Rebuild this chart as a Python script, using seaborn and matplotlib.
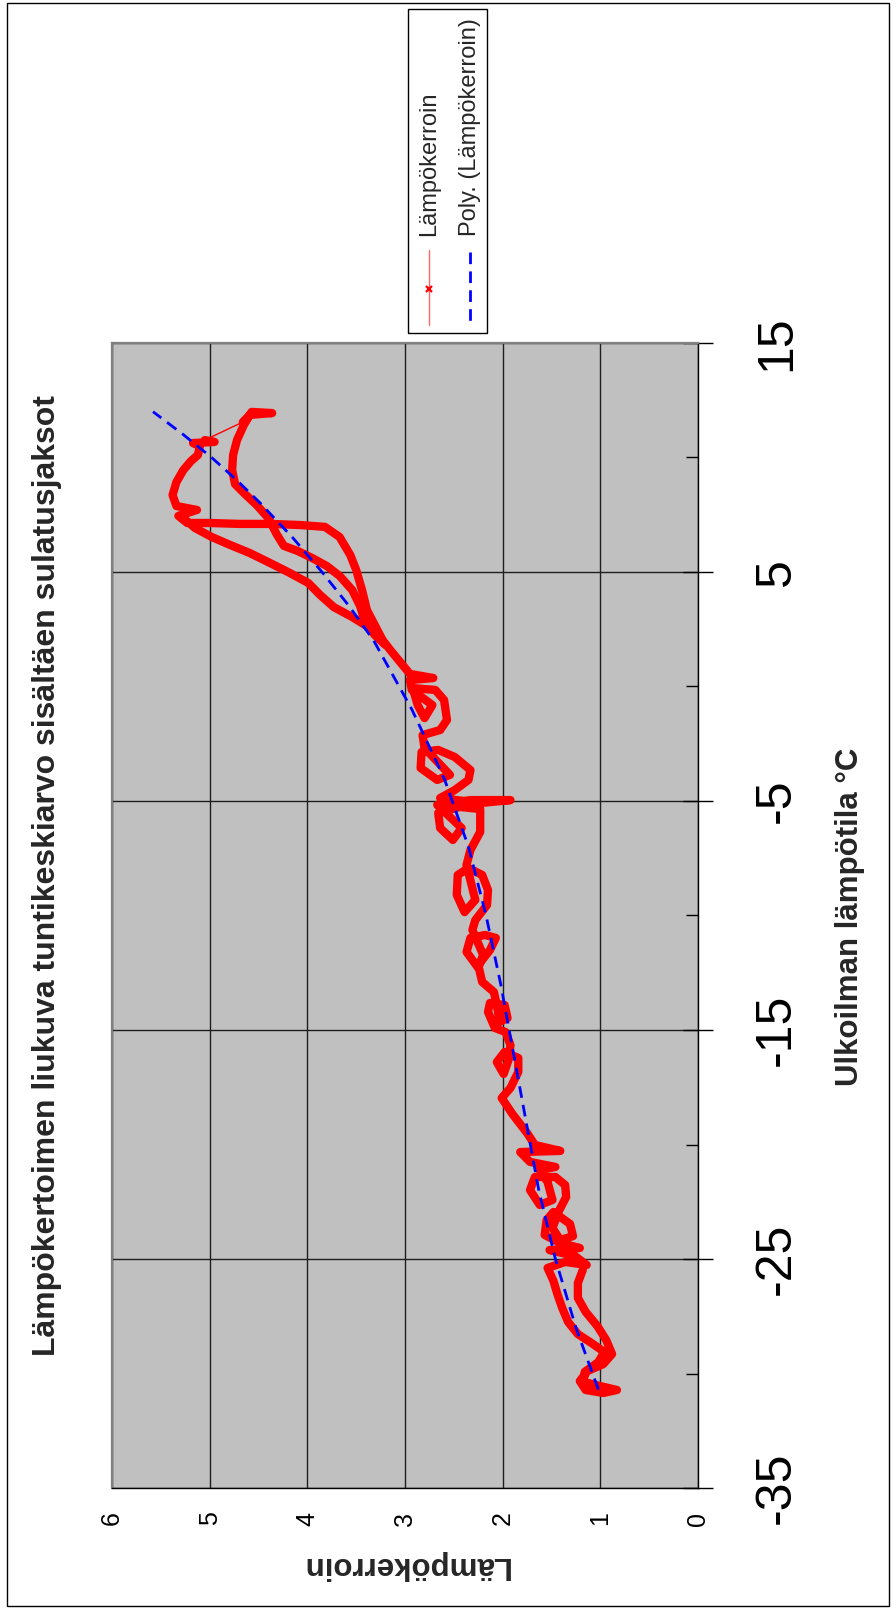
import numpy as np
import pandas as pd
import matplotlib
matplotlib.use('Agg')
import matplotlib.pyplot as plt
from matplotlib.lines import Line2D
from matplotlib.patches import Rectangle
import seaborn as sns

sns.set_style('white')
plt.rcParams['font.family'] = ['Liberation Sans', 'DejaVu Sans']

# ---------------- data ----------------
temp_c = [
    -25.48, -26.05, -26.70, -27.31, -27.93, -28.54, -29.15, -29.59, -29.89, -30.33,
    -30.72, -30.85, -30.72, -30.55, -30.37, -29.93, -29.50, -29.06, -28.67, -28.28,
    -27.75, -27.14, -26.53, -25.96, -25.39, -25.13, -25.26, -24.87, -24.61, -24.52,
    -24.30, -23.95, -23.30, -22.95, -23.47, -24.00, -24.17, -23.65, -22.95, -22.29,
    -21.77, -21.42, -21.42, -21.99, -22.64, -22.42, -21.64, -21.11, -20.98, -20.76,
    -20.33, -20.28, -20.02, -19.50, -18.67, -17.97, -17.53, -16.83, -16.22, -15.96,
    -16.40, -16.92, -16.31, -15.66, -15.09, -14.91, -14.21, -13.82, -13.91, -14.48,
    -14.65, -13.91, -13.34, -12.90, -12.16, -11.51, -10.98, -10.85, -10.98, -11.59,
    -12.29, -11.72, -10.63, -10.20, -9.54, -8.89, -8.23, -7.93, -8.23, -9.10,
    -9.85, -9.32, -7.79, -7.14, -6.35, -5.35, -5.26, -5.52, -6.18, -6.70,
    -6.18, -5.17, -4.96, -4.96, -5.09, -4.87, -4.52, -4.08, -3.65, -3.08,
    -2.77, -2.86, -3.56, -4.08, -3.86, -2.69, -2.12, -1.90, -1.46, -0.59,
    -0.15, -0.07, -0.81, -1.38, -0.81, -0.15, 0.28, 0.37, 0.55, 1.07,
    1.59, 2.03,
    2.69, 3.34, 4.21, 5.09, 5.74, 6.53, 6.97, 7.05, 7.10, 7.10, 7.14, 7.14,
    7.45, 7.71, 7.88, 8.36, 8.93, 9.45, 9.85, 10.11, 10.50, 10.63, 10.68, 10.76,
    11.55, 11.86, 11.94, 11.99, 11.42, 10.76, 10.11, 9.45, 8.84, 8.41, 7.93, 7.36,
    6.62, 6.14, 5.92, 5.61, 5.26, 4.83, 4.21, 3.52, 2.82, 2.25, 1.81,
    2.34, 2.69, 3.03, 3.47, 4.00, 4.52, 4.96, 5.39, 5.83, 6.18, 6.53, 6.92, 7.36,
]
cop = [
    1.18, 1.23, 1.23, 1.15, 1.03, 0.94, 0.88, 0.97, 1.13, 1.21,
    1.15, 0.97, 0.83, 1.00, 1.17, 1.16, 1.02, 0.96, 1.09, 1.23,
    1.33, 1.39, 1.44, 1.48, 1.54, 1.36, 1.14, 1.26, 1.52, 1.21,
    1.41, 1.57, 1.55, 1.48, 1.31, 1.28, 1.41, 1.49, 1.43, 1.35,
    1.36, 1.46, 1.67, 1.72, 1.62, 1.49, 1.54, 1.62, 1.46, 1.72,
    1.82, 1.41, 1.67, 1.75, 1.90, 2.01, 1.92, 1.84, 1.84, 1.98,
    2.06, 1.99, 1.94, 1.92, 1.97, 2.08, 2.15, 2.13, 1.98, 1.95,
    2.03, 2.06, 2.09, 2.21, 2.25, 2.13, 2.07, 2.18, 2.33, 2.37,
    2.25, 2.20, 2.31, 2.28, 2.16, 2.15, 2.21, 2.35, 2.46, 2.47,
    2.39, 2.28, 2.37, 2.33, 2.23, 2.23, 2.44, 2.66, 2.64, 2.51,
    2.42, 2.67, 2.33, 1.92, 2.23, 2.64, 2.49, 2.35, 2.33, 2.49,
    2.66, 2.83, 2.84, 2.67, 2.54, 2.80, 2.82, 2.64, 2.57, 2.60,
    2.69, 2.92, 2.87, 2.80, 2.72, 2.93, 2.95, 2.71, 2.95, 3.05,
    3.15, 3.23,
    3.31, 3.39, 3.44, 3.50, 3.56, 3.67, 3.82, 4.07, 4.38, 4.69, 5.00, 5.23,
    5.32, 5.13, 5.34, 5.38, 5.34, 5.27, 5.19, 5.12, 5.10, 5.17, 4.95, 5.05,
    4.66, 4.59, 4.36, 4.57, 4.65, 4.72, 4.76, 4.77, 4.74, 4.64, 4.52, 4.40,
    4.31, 4.24, 4.10, 3.95, 3.80, 3.67, 3.54, 3.46, 3.41, 3.31, 3.20,
    3.28, 3.41, 3.54, 3.73, 3.87, 3.99, 4.18, 4.38, 4.59, 4.79, 4.98, 5.15, 5.27,
]
trend_temp = [-30.7, -28, -25, -22, -19, -16, -13, -10, -7, -4, -1, 2, 3.5, 5, 6.5, 8, 9, 10, 11, 12]
trend_cop = [1.02, 1.25, 1.46, 1.63, 1.76, 1.89, 2.02, 2.17, 2.35, 2.60, 2.93, 3.32, 3.57, 3.85,
             4.15, 4.48, 4.72, 4.98, 5.27, 5.58]

cop_ticks = [0, 1, 2, 3, 4, 5, 6]
temp_major = [-35, -25, -15, -5, 5, 15]
temp_minor = [-30, -20, -10, 0, 10]

title_txt = "Lämpökertoimen liukuva tuntikeskiarvo sisältäen sulatusjaksot"
temp_label = "Ulkoilman lämpötila °C"
cop_label = "Lämpökerroin"
legend_labels = ["Lämpökerroin", "Poly. (Lämpökerroin)"]

# ---------------- figure ----------------
W, H = 896, 1611
fig = plt.figure(figsize=(W / 100, H / 100), dpi=100)
fig.patch.set_facecolor('white')


def fx(px):
    return px / W


def fy(py):
    return 1 - py / H


RED = '#FF0000'
BLUE = '#0000FF'

ax = fig.add_axes([fx(112), fy(1488), fx(698) - fx(112), fy(343) - fy(1488)])
ax.set_facecolor('#C0C0C0')

df = pd.DataFrame({'cop': cop, 'temp': temp_c})
JUMP = 156  # a gap in the series: the line between these points is thin

sns.lineplot(data=df, x='cop', y='temp', sort=False, estimator=None, color=RED,
             lw=1.0, ax=ax, legend=False, zorder=3)
for part in (df.iloc[:JUMP], df.iloc[JUMP:]):
    sns.lineplot(data=part, x='cop', y='temp', sort=False, estimator=None, color=RED,
                 lw=6.0, ax=ax, legend=False, zorder=3,
                 solid_joinstyle='round', solid_capstyle='round')

sns.lineplot(x=trend_cop, y=trend_temp, sort=False, estimator=None, color=BLUE,
             lw=2.0, ax=ax, legend=False, zorder=4)
ax.lines[-1].set_linestyle((0, (4.2, 2.6)))

ax.set_xlim(6, 0)
ax.set_ylim(-35, 15)
ax.set_xlabel('')
ax.set_ylabel('')

# COP axis (bottom)
ax.set_xticks(cop_ticks)
ax.set_xticklabels([str(v) for v in cop_ticks], rotation=90, fontsize=18, va='center')
ax.tick_params(axis='x', direction='out', length=6, width=1, pad=16, colors='black')

# temperature axis (right)
ax.yaxis.tick_right()
ax.set_yticks(temp_major)
ax.set_yticks(temp_minor, minor=True)
ax.set_yticklabels([str(v) for v in temp_major], rotation=90, fontsize=36,
                   ha='center', va='center')
ax.tick_params(axis='y', which='major', direction='inout', length=22, width=1,
               pad=46, colors='black')
ax.tick_params(axis='y', which='minor', direction='in', length=9, width=1, colors='black')

ax.grid(True, which='major', axis='both', color='#1e1e1e', lw=1.0)
ax.set_axisbelow(True)
for s in ('top', 'left'):
    ax.spines[s].set_color('#808080')
    ax.spines[s].set_linewidth(1.6)
for s in ('right', 'bottom'):
    ax.spines[s].set_color('black')
    ax.spines[s].set_linewidth(1.0)

# texts
fig.text(fx(47), fy(876), title_txt, rotation=90, ha='center', va='center',
         fontsize=23, fontweight='bold')
fig.text(fx(850), fy(917), temp_label, rotation=90, ha='center', va='center',
         fontsize=22.5, fontweight='bold')
fig.text(fx(405), fy(1565), cop_label, rotation=180, ha='center', va='center',
         fontsize=22.5, fontweight='bold')

# legend (drawn rotated)
fig.add_artist(Rectangle((fx(408), fy(333)), fx(487) - fx(408), fy(9) - fy(333),
                         transform=fig.transFigure, fc='white', ec='black', lw=1))
fig.add_artist(Line2D([fx(429), fx(429)], [fy(250), fy(325)], color=RED, lw=1,
                      alpha=0.6, transform=fig.transFigure))
fig.add_artist(Line2D([fx(429)], [fy(289)], color=RED, marker='x', ms=5, mew=1.6,
                      transform=fig.transFigure))
fig.add_artist(Line2D([fx(470), fx(470)], [fy(252), fy(325)], color=BLUE, lw=2.0,
                      linestyle=(0, (4.2, 2.6)), transform=fig.transFigure))
fig.text(fx(429), fy(236), legend_labels[0], rotation=90, rotation_mode='anchor',
         ha='left', va='center', fontsize=17)
fig.text(fx(470), fy(236), legend_labels[1], rotation=90, rotation_mode='anchor',
         ha='left', va='center', fontsize=17)

# chart frame
fig.add_artist(Rectangle((fx(7), fy(1606)), fx(889) - fx(7), fy(3) - fy(1606),
                         transform=fig.transFigure, fill=False, ec='black', lw=1))

fig.savefig('out.png', dpi=100)
